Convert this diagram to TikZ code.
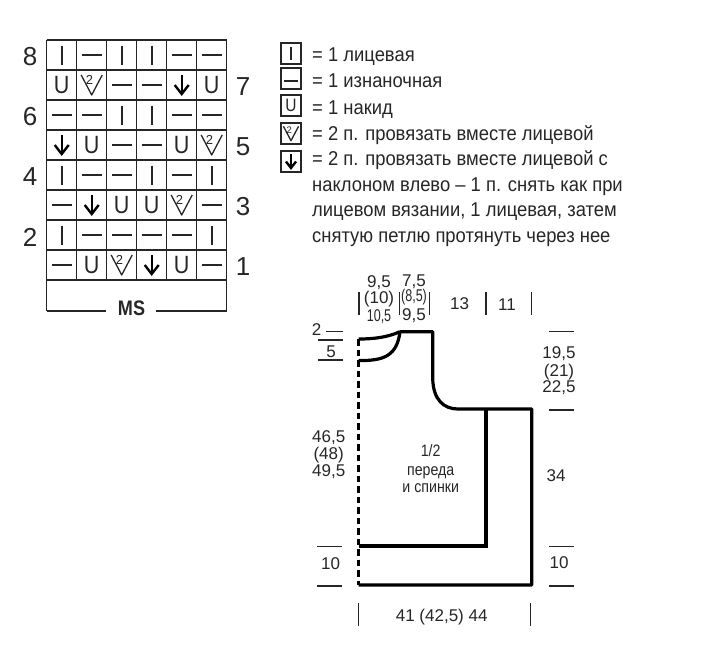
\documentclass[tikz,border=0pt]{standalone}
\usepackage{graphicx}
\usepackage{fontspec}
\setmainfont[FakeStretch=0.92]{Liberation Sans}
\newfontfamily\narrowfont[FakeStretch=0.86]{Liberation Sans}
\newfontfamily\dimfont{Liberation Sans}
\definecolor{ink}{HTML}{262626}
\def\yosz{25}
\def\twosz{13}
\tikzset{
  x=1pt,y=-1pt,
  gridline/.style={draw=ink,line width=1.3pt},
  symline/.style={draw=ink,line width=2pt},
  lbox/.style={draw=ink,line width=1.3pt},
  outline/.style={draw=black,line width=3.2pt},
  dashline/.style={draw=black,line width=3.2pt,dash pattern=on 6.5pt off 4pt},
  tick/.style={draw=ink,line width=1.1pt},
  rownum/.style={font=\dimfont\fontsize{26}{26}\selectfont,text=ink,inner sep=0pt},
  legend/.style={font=\fontsize{20}{20}\selectfont,text=ink,anchor=base west,inner sep=0pt},
  dim/.style={font=\dimfont\fontsize{17}{17}\selectfont,text=ink,inner sep=0pt,anchor=base},
  body/.style={font=\narrowfont\fontsize{16.5}{16.5}\selectfont,text=ink,inner sep=0pt,anchor=base},
  pics/knit/.style={code={\draw[symline] (0,-9.5)--(0,9.5);}},
  pics/purl/.style={code={\draw[symline] (-10,0)--(10,0);}},
  pics/yo/.style={code={\node[inner sep=0pt,text=ink,font=\narrowfont\fontsize{\yosz}{\yosz}\selectfont] (-u) at (0,0) {U};}},
  pics/ktog/.style={code={
    \draw[draw=ink,line width=1.3pt,line join=round] (-10.5,-10)--(0,10)--(10.5,-10);
    \node[inner sep=0pt,text=ink,font=\dimfont\fontsize{\twosz}{\twosz}\selectfont] (-n) at (-2.3,-5) {2};}},
  pics/ssk/.style={code={
    \draw[draw=black,line width=2.2pt] (0,-10)--(0,9);
    \draw[draw=black,line width=2.4pt] (-7,0)--(0,9)--(7,0);}},
}
\begin{document}
\begin{tikzpicture}
\useasboundingbox (0,0) rectangle (720,657);
% chart grid
\foreach \yy in {40,70,...,280} \draw[gridline] (46.7,\yy)--(226.7,\yy);
\draw[gridline] (46.7,311)--(106,311);
\draw[gridline] (156,311)--(226.7,311);
\foreach \xx in {76.7,106.7,136.7,166.7,196.7} \draw[gridline] (\xx,40)--(\xx,280);
\draw[gridline] (46.7,40)--(46.7,311);
\draw[gridline] (226.7,40)--(226.7,311);
\node[font=\narrowfont\bfseries\fontsize{21}{21}\selectfont,text=ink,inner sep=0pt] (ms) at (131.5,308) {MS};
% chart symbols
\foreach \rr/\syms in {
  55/{knit,purl,knit,knit,purl,purl},
  85/{yo,ktog,purl,purl,ssk,yo},
  115/{purl,purl,knit,knit,purl,purl},
  145/{ssk,yo,purl,purl,yo,ktog},
  175/{knit,purl,purl,knit,purl,knit},
  205/{purl,ssk,yo,yo,ktog,purl},
  235/{knit,purl,purl,purl,purl,knit},
  265/{purl,yo,ktog,ssk,yo,purl}}{
  \foreach \s [count=\i from 0] in \syms {
    \pgfmathsetmacro{\cx}{61.7+30*\i}
    \pic at (\cx,\rr) {\s};
  }
}
% row numbers
\foreach \n/\xx/\yy in {8/30/57,6/30/117,4/30/177,2/30/237,7/243/87,5/243/147,3/243/207,1/243/267}
  \node[rownum] (r\n) at (\xx,\yy) {\n};
% legend
\foreach \top/\bot in {43/64,68/89,95/116,123/144,151/172}{
  \draw[lbox] (281,\top) rectangle (301,\bot);
}
\begin{scope}[every pic/.append style={scale=.72}]
\def\yosz{18}
\def\twosz{9.5}
\pic at (291,53.5) {knit};
\pic at (291,81) {purl};
\pic at (291,105.5) {yo};
\pic at (291,133.5) {ktog};
\pic at (291,161.5) {ssk};
\end{scope}
\node[legend] (l1) at (312,61.7) {= 1 лицевая};
\node[legend] (l2) at (312,87.7) {= 1 изнаночная};
\node[legend] (l3) at (312,114) {= 1 накид};
\node[legend] (l4) at (312,140) {= 2 п. провязать вместе лицевой};
\node[legend] (l5) at (312,165.7) {= 2 п. провязать вместе лицевой с};
\node[legend] (l6) at (312,191.7) {наклоном влево – 1 п. снять как при};
\node[legend] (l7) at (312,216.7) {лицевом вязании, 1 лицевая, затем};
\node[legend] (l8) at (312,242) {снятую петлю протянуть через нее};
% garment outline
\coordinate (nb) at (358.7,339);
\coordinate (nf) at (358.7,360.5);
\coordinate (nt) at (400,331.7);
\coordinate (sh) at (432.7,331.7);
\coordinate (ar) at (458,409);
\coordinate (ri) at (531.7,409);
\coordinate (br) at (531.7,585);
\coordinate (bl) at (358.7,585);
\coordinate (ii) at (486,409);
\coordinate (ib) at (486,546);
\coordinate (il) at (358.7,546);
\draw[dashline] (nb)--(bl);
\draw[outline] (nb) .. controls (375,339) and (388,337) .. (nt);
\draw[outline] (nf) .. controls (385,361) and (397,355) .. (nt);
\draw[outline,line join=round] (nt)--(sh)--(432.7,378) .. controls (433,400) and (444,409) .. (ar)--(ri)--(br)--(bl);
\draw[outline,line join=miter] (ii)--(ib)--(il);
% dimension ticks
\foreach \xa/\ya/\xb/\yb in {359/292/359/315, 399.5/292/399.5/315, 429.3/292/429.3/315, 486/292/486/315, 531.7/292/531.7/315,
 326/331.7/343/331.7, 318/340/343/340, 318/360/343/360, 549/331.7/574/331.7, 549/410/574/410,
 317/546.5/342/546.5, 317/586/342/586, 549/546.5/574/546.5, 549/586/574/586,
 358.5/603/358.5/626, 530.5/603/530.5/626}
  \draw[tick] (\xa,\ya)--(\xb,\yb);
% dimension labels
\node[dim] (d1) at (379,287.7) {9,5};
\node[dim] (d2) at (379,303) {(10)};
\node[dim] (d3) at (379,321.7) {\scalebox{.74}[1]{10,5}};
\node[dim] (d4) at (414,286) {7,5};
\node[dim] (d5) at (414,301.7) {\scalebox{.74}[1]{(8,5)}};
\node[dim] (d6) at (414,320) {9,5};
\node[dim] (d7) at (459.5,309) {13};
\node[dim] (d8) at (507,310.7) {11};
\node[dim] (d9) at (316.7,335) {2};
\node[dim] (d10) at (331,357.7) {5};
\node[dim] (d11) at (559,358.3) {19,5};
\node[dim] (d12) at (559,376) {(21)};
\node[dim] (d13) at (559,392.3) {22,5};
\node[dim] (d14) at (328.7,442.7) {46,5};
\node[dim] (d15) at (328.7,459.3) {(48)};
\node[dim] (d16) at (328.7,476.7) {49,5};
\node[dim] (d17) at (556,481.7) {34};
\node[dim] (d18) at (330.7,569) {10};
\node[dim] (d19) at (559,568.3) {10};
\node[dim] (d20) at (441.7,621) {41 (42,5) 44};
\node[body] (t1) at (430.7,456.7) {1/2};
\node[body] (t2) at (430.7,475) {переда};
\node[body] (t3) at (430.7,492.7) {и спинки};
\end{tikzpicture}
\end{document}
